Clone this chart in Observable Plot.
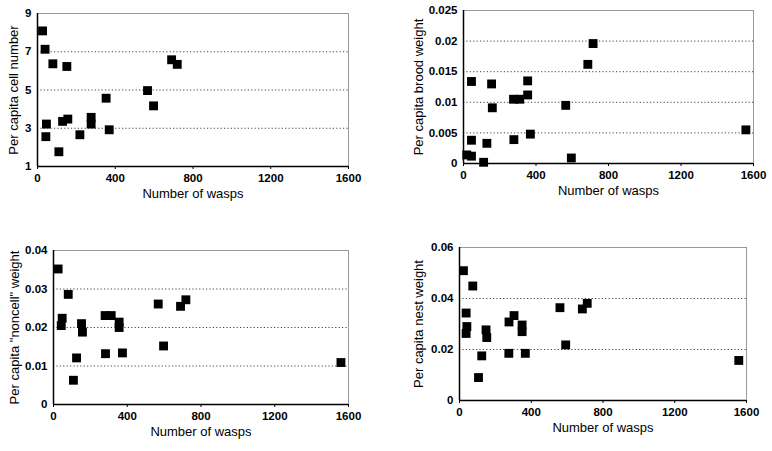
<!DOCTYPE html>
<html>
<head>
<meta charset="utf-8">
<script src="https://cdn.jsdelivr.net/npm/d3@7"></script>
<script src="https://cdn.jsdelivr.net/npm/@observablehq/plot@0.6"></script>
<style>
  html, body { margin: 0; padding: 0; background: white; }
  #wrap { position: relative; width: 772px; height: 451px; overflow: hidden; background: white; }
  .panel { position: absolute; width: 386px; height: 225px; }
</style>
</head>
<body>
<div id="wrap">
  <div class="panel" id="p1" style="left:0;top:0"></div>
  <div class="panel" id="p2" style="left:386px;top:0"></div>
  <div class="panel" id="p3" style="left:0;top:225px"></div>
  <div class="panel" id="p4" style="left:386px;top:225px"></div>
</div>
<script>
// ---- data ----
const xTitle = "Number of wasps";
const xTicks = [0, 400, 800, 1200, 1600];

// Panel 1: per capita cell number
const cellWasps = [26, 39, 79, 151, 46, 43, 110, 129, 156, 218, 276, 276, 353, 369, 566, 597, 690, 719];
const cellValues = [8.09, 7.13, 6.37, 6.23, 3.22, 2.56, 1.77, 3.36, 3.48, 2.66, 3.57, 3.22, 4.57, 2.92, 4.97, 4.17, 6.58, 6.34];
const cellTicks = [1, 3, 5, 7, 9];

// Panel 2: per capita brood weight
const broodWasps = [44, 155, 354, 354, 276, 310, 159, 564, 686, 715, 1558, 44, 129, 278, 369, 18, 44, 111, 595];
const broodValues = [0.0134, 0.0130, 0.0135, 0.0112, 0.0105, 0.0105, 0.0091, 0.0095, 0.0162, 0.0196, 0.0055, 0.0038, 0.0033, 0.0039, 0.0048, 0.0014, 0.0012, 0.0002, 0.0009];
const broodTicks = [0, 0.005, 0.01, 0.015, 0.02, 0.025];

// Panel 3: per capita "noncell" weight
const noncellWasps = [25, 80, 47, 42, 152, 157, 125, 108, 280, 313, 356, 356, 282, 374, 568, 597, 689, 718, 1559];
const noncellValues = [0.0352, 0.0286, 0.0224, 0.0205, 0.0210, 0.0188, 0.0121, 0.0063, 0.0231, 0.0231, 0.0214, 0.0200, 0.0132, 0.0134, 0.0261, 0.0152, 0.0255, 0.0272, 0.0109];
const noncellTicks = [0, 0.01, 0.02, 0.03, 0.04];

// Panel 4: per capita nest weight
const nestWasps = [22, 74, 37, 41, 37, 148, 152, 124, 106, 276, 304, 349, 349, 275, 367, 560, 592, 685, 712, 1557];
const nestValues = [0.0509, 0.0449, 0.0343, 0.0290, 0.0263, 0.0277, 0.0247, 0.0175, 0.0090, 0.0308, 0.0333, 0.0296, 0.0270, 0.0185, 0.0185, 0.0364, 0.0218, 0.0359, 0.0381, 0.0157];
const nestTicks = [0, 0.02, 0.04, 0.06];

const panels = [
  {id: "p1", title: "Per capita cell number", xs: cellWasps, ys: cellValues, ticks: cellTicks,
   m: [13, 38, 59, 37], yTitleDx: -24},
  {id: "p2", title: "Per capita brood weight", xs: broodWasps, ys: broodValues, ticks: broodTicks,
   m: [10, 19, 62, 77], yTitleDx: -45},
  {id: "p3", title: "Per capita \"noncell\" weight", xs: noncellWasps, ys: noncellValues, ticks: noncellTicks,
   m: [25, 38, 46, 53], yTitleDx: -39},
  {id: "p4", title: "Per capita nest weight", xs: nestWasps, ys: nestValues, ticks: nestTicks,
   m: [22, 26, 50, 73], yTitleDx: -41}
];

const font = "'Liberation Sans', Arial, Helvetica, sans-serif";

for (const p of panels) {
  const data = p.xs.map((x, i) => ({x, y: p.ys[i]}));
  const ymin = p.ticks[0], ymax = p.ticks[p.ticks.length - 1];
  const grid = p.ticks.slice(1, -1);
  const chart = Plot.plot({
    width: 386, height: 225,
    marginTop: p.m[0], marginRight: p.m[1], marginBottom: p.m[2], marginLeft: p.m[3],
    style: {fontFamily: font, fontSize: "11px", color: "black", background: "white"},
    x: {domain: [0, 1600]},
    y: {domain: [ymin, ymax]},
    marks: [
      Plot.gridY(grid, {stroke: "#444", strokeOpacity: 1, strokeDasharray: "1.2,2.2", strokeWidth: 1}),
      Plot.frame({stroke: "#999", strokeWidth: 1}),
      Plot.ruleX([0], {stroke: "black", strokeWidth: 1.5}),
      Plot.ruleY([ymin], {stroke: "black", strokeWidth: 1.5}),
      Plot.axisX({ticks: xTicks, tickSize: 3, tickPadding: 4, fontWeight: "bold", fontSize: 11.5, label: null, tickFormat: d => String(d)}),
      Plot.axisY({ticks: p.ticks, tickSize: 0, tickPadding: 6, fontWeight: "bold", fontSize: 11.5, label: null, tickFormat: d => String(+d.toFixed(4))}),
      Plot.text([xTitle], {frameAnchor: "bottom", textAnchor: "middle", dy: 31, fontSize: 13, fill: "black"}),
      Plot.text([p.title], {frameAnchor: "left", textAnchor: "middle", rotate: -90, dx: p.yTitleDx, fontSize: 13, fill: "black"}),
      Plot.dot(data, {x: "x", y: "y", symbol: "square", r: 5, fill: "black", stroke: "none"})
    ]
  });
  document.getElementById(p.id).appendChild(chart);
}
</script>
</body>
</html>
